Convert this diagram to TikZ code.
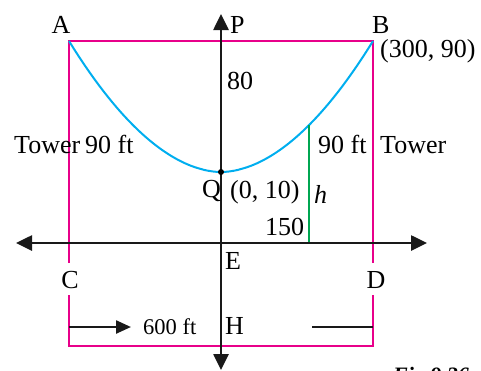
\documentclass[tikz,border=0pt]{standalone}
\usepackage{fontspec}
\setmainfont{Liberation Serif}
\usetikzlibrary{arrows.meta}
\definecolor{towerpink}{HTML}{E8008A}
\definecolor{cablecyan}{HTML}{00AEEF}
\definecolor{hgreen}{HTML}{00A651}
\tikzset{
  lbl/.style={inner sep=0pt, anchor=base west, font=\fontsize{26}{30}\selectfont},
  small/.style={inner sep=0pt, anchor=base west, font=\fontsize{22.5}{26}\selectfont},
  axis/.style={line width=2.6pt, black!90, -{Triangle[length=16pt,width=15pt]}},
  towerline/.style={line width=2.2pt, towerpink},
  cable/.style={line width=2pt, cablecyan},
  dimline/.style={line width=2.4pt, black!90},
}
\begin{document}
\begin{tikzpicture}[x=1pt,y=-1pt]
\clip (0,0) rectangle (481,370);
\useasboundingbox (0,0) rectangle (481,370);
% key points
\coordinate (A) at (69,41);
\coordinate (B) at (373,41);
\coordinate (Cup) at (69,263);
\coordinate (Clo) at (69,295);
\coordinate (Dup) at (373,263);
\coordinate (Dlo) at (373,295);
\coordinate (BL) at (69,346);
\coordinate (BR) at (373,346);
\coordinate (Q) at (221,172);
\coordinate (xl) at (16,243);
\coordinate (xr) at (427,243);
\coordinate (yt) at (221,14);
\coordinate (yb) at (221,370);
\coordinate (O) at (221,243);
\coordinate (g0) at (309,243);
\coordinate (g1) at (309,125);
\coordinate (a1s) at (69,327);
\coordinate (a1e) at (131,327);
\coordinate (a2s) at (312,327);
\coordinate (a2e) at (373,327);
% towers
\draw[towerline] (Cup) -- (A) -- (B) -- (Dup);
\draw[towerline] (Clo) -- (BL) -- (BR) -- (Dlo);
% cable
\draw[cable] plot[domain=-152:152, samples=100, smooth] ({221+\x},{172-131*pow(abs(\x/152),1.88)});
% height h
\draw[line width=2pt, hgreen] (g0) -- (g1);
% axes
\draw[axis, {Triangle[length=16pt,width=15pt]}-{Triangle[length=16pt,width=15pt]}] (xl) -- (xr);
\draw[axis] (O) -- (yt);
\draw[axis] (O) -- (yb);
% span markers
\draw[dimline, -{Triangle[length=15pt,width=13pt]}] (a1s) -- (a1e);
\draw[dimline] (a2s) -- (a2e);
\fill[black] (Q) circle (3pt);
% labels
\node[lbl, anchor=base] (lA) at (61,33) {A};
\node[lbl] (lP) at (230,33) {P};
\node[lbl] (lB) at (372,33) {B};
\node[lbl] (lBc) at (380,57) {(300, 90)};
\node[lbl] (l80) at (227,89) {80};
\node[lbl] (lTl) at (14,153) {Tower};
\node[lbl] (l90l) at (85,153) {90 ft};
\node[lbl] (l90r) at (318,153) {90 ft};
\node[lbl] (lTr) at (380,153) {Tower};
\node[lbl] (lQ) at (202,197) {Q};
\node[lbl] (lQc) at (230,198) {(0, 10)};
\node[lbl] (lh) at (314,203) {\itshape h};
\node[lbl] (l150) at (265,235) {150};
\node[lbl] (lE) at (225,269) {E};
\node[lbl, anchor=base] (lC) at (70,288) {C};
\node[lbl, anchor=base] (lD) at (376,288) {D};
\node[lbl] (lH) at (225,334) {H};
\node[small] (l600) at (143,334) {600 ft};
\node[inner sep=0pt, anchor=north west, font=\fontsize{22}{26}\selectfont\bfseries\itshape] (fig) at (393,367) {Fig 9.26};
\end{tikzpicture}
\end{document}
